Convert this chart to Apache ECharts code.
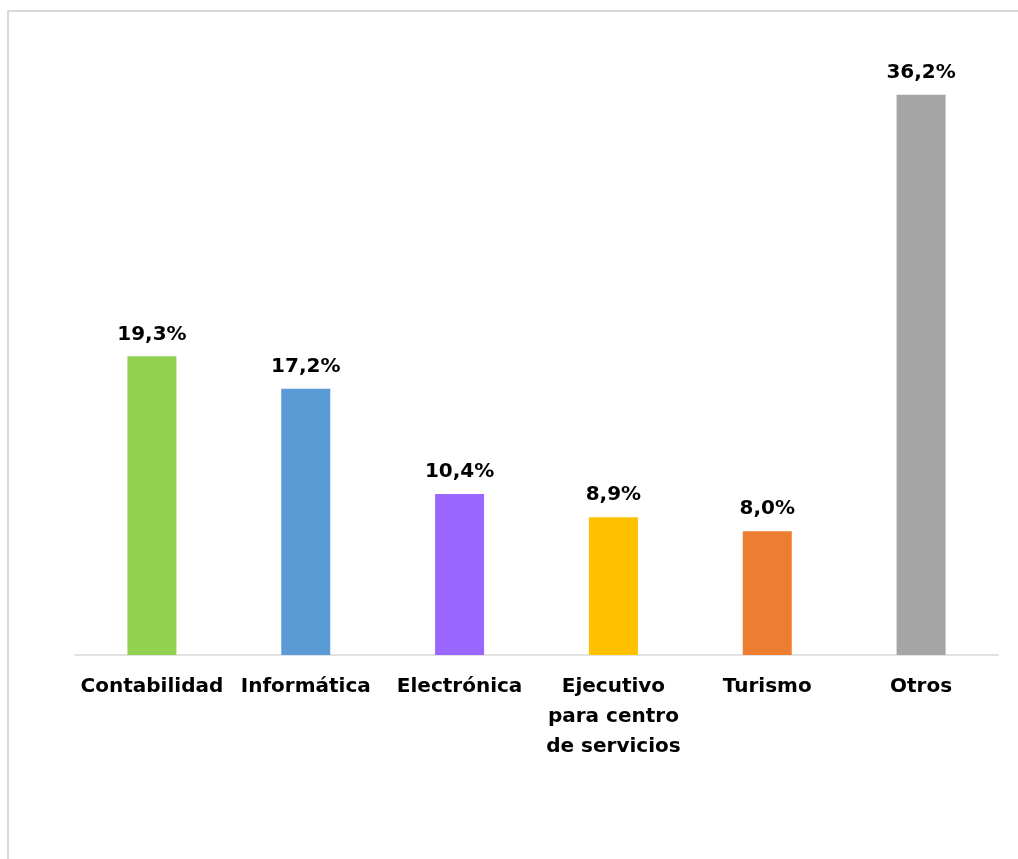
<!DOCTYPE html>
<html>
<head>
<meta charset="utf-8">
<script src="https://cdn.jsdelivr.net/npm/echarts@6/dist/echarts.min.js"></script>
<style>
html,body{margin:0;padding:0;background:#fff;}
#c{width:1018px;height:859px;}
</style>
</head>
<body>
<div id="c"></div>
<script>
const categories = ['Contabilidad', 'Informática', 'Electrónica', 'Ejecutivo\npara centro\nde servicios', 'Turismo', 'Otros'];
const values = [19.3, 17.2, 10.4, 8.9, 8.0, 36.2];
const colors = ['#92d050', '#5b9bd5', '#9966ff', '#ffc000', '#ed7d31', '#a5a5a5'];

const chart = echarts.init(document.getElementById('c'));
const FONT = 'DejaVu Sans';
chart.setOption({
  animation: false,
  graphic: [{
    type: 'rect',
    shape: { x: 8, y: 11, width: 1100, height: 1000 },
    style: { fill: 'none', stroke: '#d9d9d9', lineWidth: 2 },
    silent: true
  }],
  grid: { left: 75, right: 20, top: 36, bottom: 204 },
  xAxis: {
    type: 'category',
    data: categories,
    axisLine: { lineStyle: { color: '#d9d9d9', width: 1.5 } },
    axisTick: { show: false },
    axisLabel: {
      interval: 0,
      margin: 17,
      color: '#000',
      fontFamily: FONT,
      fontWeight: 'bold',
      fontSize: 20,
      lineHeight: 30
    }
  },
  yAxis: {
    type: 'value',
    min: 0,
    max: 40,
    show: false,
    splitLine: { show: false }
  },
  series: [{
    type: 'bar',
    barWidth: 49,
    data: values.map((v, i) => ({ value: v, itemStyle: { color: colors[i] } })),
    label: {
      show: true,
      position: 'top',
      distance: 12,
      color: '#000',
      fontFamily: FONT,
      fontWeight: 'bold',
      fontSize: 20,
      formatter: p => p.value.toFixed(1).replace('.', ',') + '%'
    }
  }]
});
</script>
</body>
</html>
